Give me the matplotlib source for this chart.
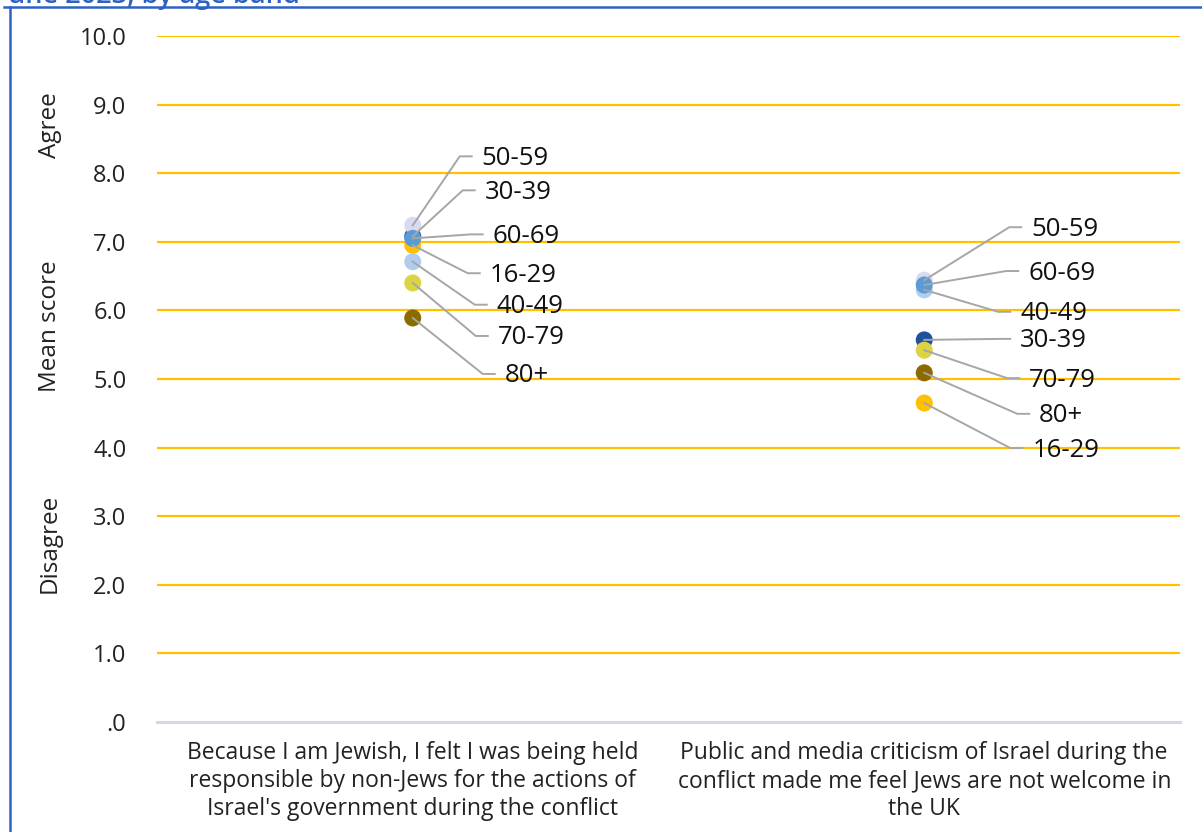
import matplotlib
matplotlib.use("Agg")
import matplotlib.pyplot as plt
from matplotlib.lines import Line2D
from matplotlib.transforms import IdentityTransform

plt.rcParams['font.family'] = ['Open Sans', 'DejaVu Sans']

categories = [
    "Because I am Jewish, I felt I was being held\nresponsible by non-Jews for the actions of\nIsrael's government during the conflict",
    "Public and media criticism of Israel during the\nconflict made me feel Jews are not welcome in\nthe UK",
]
age_groups = ["16-29", "30-39", "40-49", "50-59", "60-69", "70-79", "80+"]
values = {
    "16-29": [6.95, 4.65],
    "30-39": [7.08, 5.57],
    "40-49": [6.71, 6.30],
    "50-59": [7.24, 6.44],
    "60-69": [7.05, 6.37],
    "70-79": [6.40, 5.42],
    "80+":   [5.89, 5.09],
}
colors = {
    "16-29": "#FFC000",
    "30-39": "#1F519F",
    "40-49": "#B0CCEF",
    "50-59": "#D7DAF0",
    "60-69": "#5B9BD5",
    "70-79": "#DDD443",
    "80+":   "#8B6A00",
}
# label offsets (pixels) from each point: (dx, dy up)
label_offsets = {
    "16-29": [(77, -30), (108, -47)],
    "30-39": [(72, 44), (96, -1)],
    "40-49": [(84, -45), (96, -24)],
    "50-59": [(69, 67), (107, 51)],
    "60-69": [(80, 2), (104, 12)],
    "70-79": [(85, -55), (105, -30)],
    "80+":   [(92, -58), (115, -43)],
}
yticks = [0, 1, 2, 3, 4, 5, 6, 7, 8, 9, 10]
ytick_labels = [".0", "1.0", "2.0", "3.0", "4.0", "5.0", "6.0", "7.0", "8.0", "9.0", "10.0"]

W, H = 1202, 832
fig = plt.figure(figsize=(W / 100, H / 100), dpi=100)
ax = fig.add_axes([157 / W, 110 / H, (1180 - 157) / W, 686 / H])

xpos = [0, 1]
ax.set_xlim(-0.5, 1.5)
ax.set_ylim(0, 10)

for y in yticks:
    if y == 0:
        ax.axhline(y, color="#D3D6EE", lw=2.2, zorder=1, clip_on=False)
    else:
        ax.axhline(y, color="#FFC000", lw=1.6, zorder=1)

for g in age_groups:
    ax.scatter(xpos, values[g], s=150, color=colors[g], zorder=3, edgecolors='none')

for s in ax.spines.values():
    s.set_visible(False)
ax.set_yticks(yticks)
ax.set_yticklabels(ytick_labels, fontsize=17, color="#222222")
ax.set_xticks(xpos)
ax.set_xticklabels(categories, fontsize=16.5, color="#222222", linespacing=1.22)
ax.tick_params(axis='y', length=0, pad=22)
ax.tick_params(axis='x', length=0, pad=14)

fig.canvas.draw()
ident = IdentityTransform()
for g in age_groups:
    for i, x in enumerate(xpos):
        px, py = ax.transData.transform((x, values[g][i]))
        dx, dy = label_offsets[g][i]
        tx, ty = px + dx, py + dy
        line = Line2D([px, tx - 22, tx - 10], [py, ty + 2, ty + 2],
                      transform=ident, color="#A6A6A6", lw=1.4, zorder=2)
        fig.add_artist(line)
        fig.text(tx / W, ty / H, g, fontsize=18.5, color="#111111",
                 ha='left', va='center')

# labels on y side
for label, ypix in [("Agree", 125), ("Mean score", 326), ("Disagree", 543)]:
    fig.text(50 / W, 1 - ypix / H, label, rotation=90, fontsize=17.5,
             ha='center', va='center', color="#222222")

# frame lines
blue = "#2E62C2"
fig.add_artist(Line2D([10 / W, 10 / W], [0, 1 - 7 / H], color=blue, lw=1.8))
fig.add_artist(Line2D([4 / W, 1], [1 - 7 / H, 1 - 7 / H], color=blue, lw=1.8))
fig.text(8 / W, 1 - 3 / H, "une 2023, by age band", fontsize=19.5, color=blue,
         ha='left', va='baseline', fontweight='semibold')

fig.savefig("out.png", dpi=100)
